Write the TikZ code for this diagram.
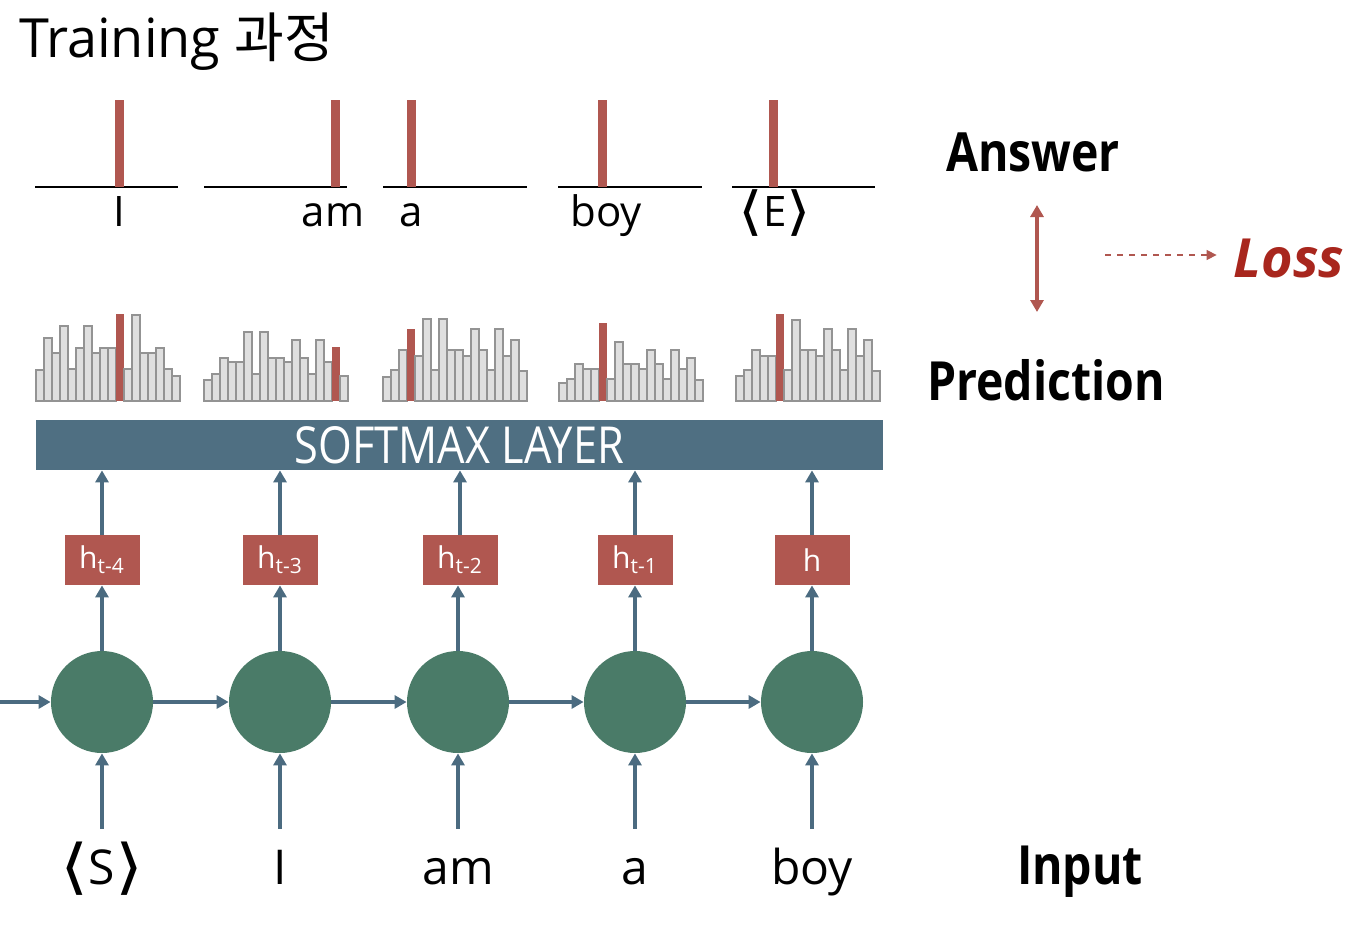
\documentclass[tikz,border=0pt]{standalone}
\usepackage{fontspec}
\setmainfont{Open Sans}
\newfontfamily\krfont{Noto Sans CJK KR}
\newfontfamily\symfont{DejaVu Sans}
\newfontfamily\condfont[FakeStretch=0.85]{Open Sans}
\newfontfamily\sidefont[FakeStretch=0.86]{Open Sans}
\usepackage{tikz}
\usetikzlibrary{arrows.meta}

\definecolor{barred}{HTML}{B05750}
\definecolor{cellgreen}{HTML}{4A7B68}
\definecolor{flowblue}{HTML}{4B6B80}
\definecolor{softblue}{HTML}{4F6F82}
\definecolor{lossred}{HTML}{A8261D}

\newcommand{\lang}{\raisebox{-0.08em}{\scalebox{1.5}[1.25]{\symfont\char"27E8}}}
\newcommand{\rang}{\raisebox{-0.08em}{\scalebox{1.5}[1.25]{\symfont\char"27E9}}}

\begin{document}
\begin{tikzpicture}[x=0.5pt,y=-0.5pt,
    cell/.style={circle, fill=cellgreen, minimum size=51pt, inner sep=0pt},
    hbox/.style={fill=barred, minimum width=37.5pt, minimum height=25pt, inner sep=0pt,
        text=white, font=\fontsize{15}{18}\selectfont},
    flow/.style={draw=flowblue, line width=2pt, -{Triangle[length=6pt,width=6.5pt]}},
    histbar/.style={draw=gray!85, fill=gray!25, line width=0.6pt},
    word/.style={font=\fontsize{24}{28}\selectfont, text height=18pt, text depth=6pt},
    answord/.style={font=\fontsize{21}{25}\selectfont, text height=16pt, text depth=5pt},
    side/.style={font=\sidefont\bfseries\fontsize{27}{32}\selectfont},
]
        \useasboundingbox (0,0) rectangle (1348,926);

        % ---------- Title ----------
        \node[anchor=west, font=\fontsize{27}{32}\selectfont] (title) at (12,42) {Training {\krfont 과정}};

        % ---------- Answer row ----------
        \foreach \lo/\hi/\bx in {35/178/119.5, 204/347/335.5, 383/527/411.5, 558/702/602.5, 732/875/773.5}{
            \draw[line width=0.75pt] (\lo,187) -- (\hi,187);
            \fill[barred] ({\bx-4.5},100) rectangle ({\bx+4.5},187);
        }
        \node[answord] (a1) at (119,215) {I};
        \node[answord] (a2) at (333,215) {am};
        \node[answord] (a3) at (411,215) {a};
        \node[answord] (a4) at (606,215) {boy};
        \node[answord] (a5) at (775,215) {\lang E\rang};

        % ---------- Prediction histograms ----------
        \foreach \x/\r/\hs in {
            36/10/{31,63,48,75,32,53,75,48,53,53,87,32,86,48,48,53,32,25},
            204/16/{21,27,43,39,39,69,27,69,43,43,39,61,43,27,61,39,54,25},
            383/3/{24,31,51,72,45,82,31,82,51,51,45,72,51,31,72,45,61,30},
            559/5/{18,22,37,32,32,78,22,59,37,37,32,51,37,22,51,32,43,21},
            736/5/{25,31,51,45,45,87,31,81,51,51,45,72,51,31,72,45,61,30}}{
            \foreach \h [count=\i from 0] in \hs {
                \ifnum\i=\r
                    \fill[barred] ({\x+8*\i},401) rectangle ++(8,-\h);
                \else
                    \draw[histbar] ({\x+8*\i},401) rectangle ++(8,-\h);
                \fi
            }
        }

        % ---------- Softmax layer ----------
        \node[fill=softblue, minimum width=423.5pt, minimum height=25pt, inner sep=0pt,
            text=white, font=\condfont\fontsize{25.5}{28}\selectfont] (soft) at (459.5,445) {SOFTMAX LAYER};

        % ---------- RNN cells ----------
        \node[cell] (c1) at (102,702) {};
        \node[cell] (c2) at (280,702) {};
        \node[cell] (c3) at (458,702) {};
        \node[cell] (c4) at (635,702) {};
        \node[cell] (c5) at (812,702) {};

        % hidden states
        \node[hbox] (h1) at (102,560) {h\textsubscript{t-4}};
        \node[hbox] (h2) at (280,560) {h\textsubscript{t-3}};
        \node[hbox] (h3) at (460,560) {h\textsubscript{t-2}};
        \node[hbox] (h4) at (635,560) {h\textsubscript{t-1}};
        \node[hbox] (h5) at (812,560) {h};

        % inputs
        \node[word] (in1) at (102,872) {\lang S\rang};
        \node[word] (in2) at (280,872) {I};
        \node[word] (in3) at (458,872) {am};
        \node[word] (in4) at (635,872) {a};
        \node[word] (in5) at (812,872) {boy};

        % arrows
        \coordinate (start) at (0,702);
        \draw[flow] (start) -- (c1);
        \foreach \a/\b in {c1/c2, c2/c3, c3/c4, c4/c5}
            \draw[flow] (\a) -- (\b);
        \foreach \n in {1,...,5}{
            \draw[flow] (c\n) -- (c\n |- h\n.south);
            \draw[flow] (h\n) -- (h\n |- soft.south);
            \draw[flow] (in\n.north) ++(0,-12) -- (c\n);
        }

        % ---------- Side labels ----------
        \node[side] (answer) at (1033,152) {Answer};
        \node[side] (pred) at (1046,380) {Prediction};
        \node[side] (input) at (1080,872) {Input};
        \node[font=\bfseries\itshape\fontsize{27}{32}\selectfont, text=lossred] (loss) at (1289,258) {Loss};

        \coordinate (ansTip) at (1037,205);
        \coordinate (predTip) at (1037,312);
        \draw[barred, line width=1.6pt, {Triangle[length=6pt,width=6.5pt]}-{Triangle[length=6pt,width=6.5pt]}] (ansTip) -- (predTip);

        \coordinate (lossStart) at (1105,255);
        \draw[barred, line width=0.6pt, dashed, -{Triangle[length=5pt,width=5pt]}] (lossStart) -- ([xshift=-5pt]loss.west |- lossStart);

\end{tikzpicture}
\end{document}
